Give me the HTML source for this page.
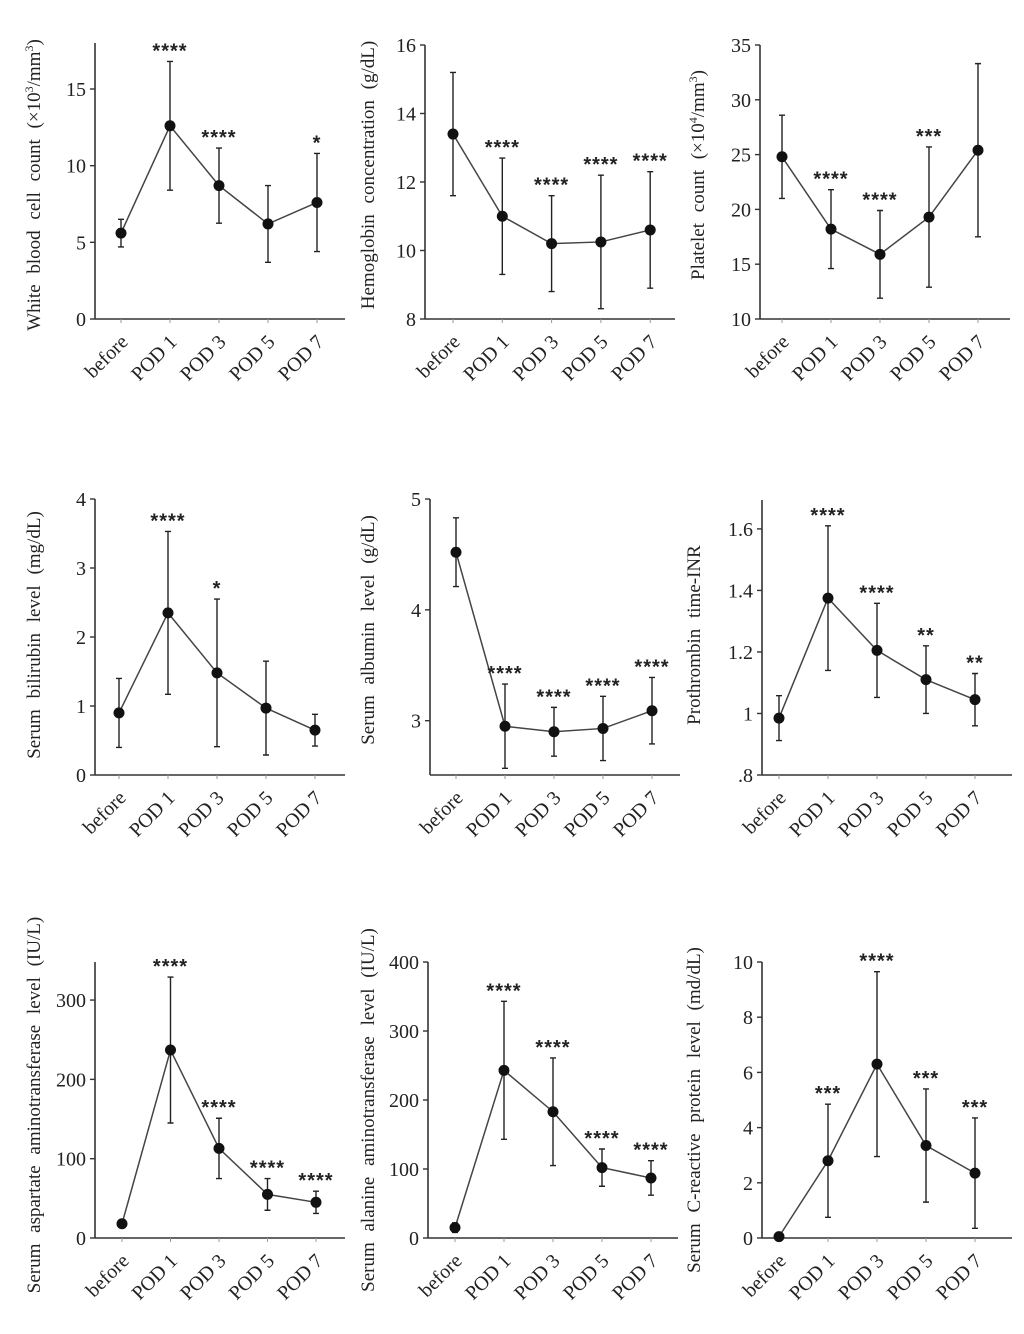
<!DOCTYPE html>
<html><head><meta charset="utf-8">
<style>
html,body{margin:0;padding:0;background:#fff;}
svg{display:block;}
text{font-family:"Liberation Serif",serif;fill:#222;}
</style></head>
<body>
<svg id="chart" width="1024" height="1334" viewBox="0 0 1024 1334" xmlns="http://www.w3.org/2000/svg"></svg>
<script>
const categories = ["before","POD 1","POD 3","POD 5","POD 7"];

const wbcMean = [5.6,12.6,8.7,6.2,7.6];
const wbcSd = [0.9,4.2,2.45,2.5,3.2];
const wbcStars = ["","****","****","","*"];
const wbcTicks = [0,5,10,15];

const hbMean = [13.4,11.0,10.2,10.25,10.6];
const hbSd = [1.8,1.7,1.4,1.95,1.7];
const hbStars = ["","****","****","****","****"];
const hbTicks = [8,10,12,14,16];

const pltMean = [24.8,18.2,15.9,19.3,25.4];
const pltSd = [3.8,3.6,4.0,6.4,7.9];
const pltStars = ["","****","****","***",""];
const pltTicks = [10,15,20,25,30,35];

const bilMean = [0.9,2.35,1.48,0.97,0.65];
const bilSd = [0.5,1.18,1.07,0.68,0.23];
const bilStars = ["","****","*","",""];
const bilTicks = [0,1,2,3,4];

const albMean = [4.52,2.95,2.9,2.93,3.09];
const albSd = [0.31,0.38,0.22,0.29,0.3];
const albStars = ["","****","****","****","****"];
const albTicks = [3,4,5];

const inrMean = [0.985,1.375,1.205,1.11,1.045];
const inrSd = [0.073,0.235,0.153,0.11,0.085];
const inrStars = ["","****","****","**","**"];
const inrTicks = [0.8,1.0,1.2,1.4,1.6];
const inrTickLabels = [".8","1","1.2","1.4","1.6"];

const astMean = [18,237,113,55,45];
const astSd = [0,92,38,20,14];
const astStars = ["","****","****","****","****"];
const astTicks = [0,100,200,300];

const altMean = [15,243,183,102,87];
const altSd = [7,100,78,27,25];
const altStars = ["","****","****","****","****"];
const altTicks = [0,100,200,300,400];

const crpMean = [0.05,2.8,6.3,3.35,2.35];
const crpSd = [0,2.05,3.35,2.05,2.0];
const crpStars = ["","***","****","***","***"];
const crpTicks = [0,2,4,6,8,10];

const svg = document.getElementById('chart');
const NS = "http://www.w3.org/2000/svg";
function mk(tag, attrs, parent){
  const e = document.createElementNS(NS, tag);
  for (const k in attrs) e.setAttribute(k, attrs[k]);
  (parent||svg).appendChild(e);
  return e;
}

function panel(cfg){
  const g = mk('g', {});
  
  
  const y = v => cfg.bottom - (v - cfg.dmin) * (cfg.bottom - cfg.top) / (cfg.dmax - cfg.dmin);
  const x = i => cfg.x0 + i * cfg.step;
  const ya = mk('line', {x1:cfg.ax, y1:cfg.top, x2:cfg.ax, y2:cfg.bottom, stroke:'#333', 'stroke-width':1.6}, g);
  
  
  const xa = mk('line', {x1:cfg.ax, y1:cfg.bottom, x2:cfg.ax+250, y2:cfg.bottom, stroke:'#333', 'stroke-width':1.6}, g);
  
  
  cfg.ticks.forEach((t, i) => {
    mk('line', {x1:cfg.ax-5, y1:y(t), x2:cfg.ax, y2:y(t), stroke:'#333', 'stroke-width':1.4}, g);
    const tl = mk('text', {x:cfg.ax-9, y:y(t)+7, 'text-anchor':'end', 'font-size':20}, g);
    tl.textContent = cfg.tickLabels ? cfg.tickLabels[i] : String(t);
    
    
  });
  categories.forEach((c, i) => {
    mk('line', {x1:x(i), y1:cfg.bottom, x2:x(i), y2:cfg.bottom+4, stroke:'#999', 'stroke-width':1}, g);
    const cx = x(i) + 8, cy = cfg.bottom + 24;
    const tl = mk('text', {x:cx, y:cy, 'text-anchor':'end', 'font-size':20, transform:`rotate(-45 ${cx} ${cy})`}, g);
    tl.textContent = c;
    
    
  });
  const at = mk('text', {x:cfg.tx, y:cfg.ty, 'text-anchor':'middle', 'font-size':19, 'word-spacing':'6px', transform:`rotate(-90 ${cfg.tx} ${cfg.ty})`}, g);
  at.innerHTML = cfg.title;
  
  
  const pts = cfg.mean.map((m, i) => `${x(i)},${y(m)}`).join(' ');
  const pl = mk('polyline', {points:pts, fill:'none', stroke:'#444', 'stroke-width':1.5}, g);
  
  
  cfg.mean.forEach((m, i) => {
    const sd = cfg.sd[i];
    if (sd > 0) {
      const hi = y(m + sd), lo = y(Math.max(cfg.dmin, m - sd));
      const eb = mk('path', {d:`M${x(i)},${hi}V${lo}M${x(i)-3},${hi}H${x(i)+3}M${x(i)-3},${lo}H${x(i)+3}`, stroke:'#222', 'stroke-width':1.4, fill:'none'}, g);
      
      
    }
    const p = mk('circle', {cx:x(i), cy:y(m), r:5.5, fill:'#111'}, g);
    
    
    if (cfg.stars[i]) {
      const st = mk('text', {x:x(i), y:y(m + sd) - 4, 'text-anchor':'middle', 'font-size':20, 'font-weight':'bold', 'letter-spacing':'1px', style:'font-family:"Liberation Sans",sans-serif'}, g);
      st.textContent = cfg.stars[i];
      
      
    }
  });
}

panel({name:'wbc-panel', ax:95, bottom:319, top:43, dmin:0, dmax:18, x0:121, step:49, ticks:wbcTicks, mean:wbcMean, sd:wbcSd, stars:wbcStars, tx:40, ty:185, title:'White blood cell count (×10<tspan baseline-shift="super" font-size="12">3</tspan>/mm<tspan baseline-shift="super" font-size="12">3</tspan>)'});
panel({name:'hemoglobin-panel', ax:425, bottom:319, top:45, dmin:8, dmax:16, x0:453, step:49.3, ticks:hbTicks, mean:hbMean, sd:hbSd, stars:hbStars, tx:374, ty:175, title:'Hemoglobin concentration (g/dL)'});
panel({name:'platelet-panel', ax:760, bottom:319, top:45, dmin:10, dmax:35, x0:782, step:49, ticks:pltTicks, mean:pltMean, sd:pltSd, stars:pltStars, tx:704, ty:175, title:'Platelet count (×10<tspan baseline-shift="super" font-size="12">4</tspan>/mm<tspan baseline-shift="super" font-size="12">3</tspan>)'});
panel({name:'bilirubin-panel', ax:95, bottom:775, top:499, dmin:0, dmax:4, x0:119, step:49, ticks:bilTicks, mean:bilMean, sd:bilSd, stars:bilStars, tx:40, ty:635, title:'Serum bilirubin level (mg/dL)'});
panel({name:'albumin-panel', ax:430, bottom:775, top:499, dmin:2.51, dmax:5, x0:456, step:49, ticks:albTicks, mean:albMean, sd:albSd, stars:albStars, tx:374, ty:630, title:'Serum albumin level (g/dL)'});
panel({name:'inr-panel', ax:762, bottom:775, top:500, dmin:0.8, dmax:1.694, x0:779, step:49, ticks:inrTicks, tickLabels:inrTickLabels, mean:inrMean, sd:inrSd, stars:inrStars, tx:700, ty:635, title:'Prothrombin time-INR'});
panel({name:'ast-panel', ax:95, bottom:1238, top:962, dmin:0, dmax:348, x0:122, step:48.5, ticks:astTicks, mean:astMean, sd:astSd, stars:astStars, tx:40, ty:1105, title:'Serum aspartate aminotransferase level (IU/L)'});
panel({name:'alt-panel', ax:428, bottom:1238, top:962, dmin:0, dmax:400, x0:455, step:49, ticks:altTicks, mean:altMean, sd:altSd, stars:altStars, tx:374, ty:1110, title:'Serum alanine aminotransferase level (IU/L)'});
panel({name:'crp-panel', ax:762, bottom:1238, top:962, dmin:0, dmax:10, x0:779, step:49, ticks:crpTicks, mean:crpMean, sd:crpSd, stars:crpStars, tx:700, ty:1110, title:'Serum C-reactive protein level (md/dL)'});
</script>
</body></html>
